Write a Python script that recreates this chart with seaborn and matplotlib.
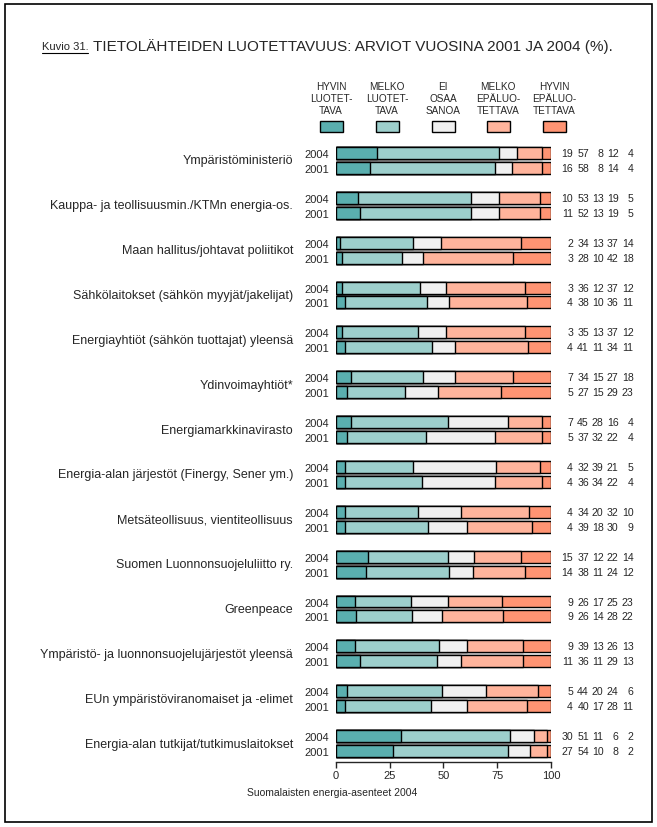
import numpy as np
import pandas as pd
import matplotlib.pyplot as plt
from matplotlib.patches import Rectangle
from matplotlib.lines import Line2D
import seaborn as sns

# data: shares (%) per source, 2004 and 2001
sources = [
    "Ympäristöministeriö",
    "Kauppa- ja teollisuusmin./KTMn energia-os.",
    "Maan hallitus/johtavat poliitikot",
    "Sähkölaitokset (sähkön myyjät/jakelijat)",
    "Energiayhtiöt (sähkön tuottajat) yleensä",
    "Ydinvoimayhtiöt*",
    "Energiamarkkinavirasto",
    "Energia-alan järjestöt (Finergy, Sener ym.)",
    "Metsäteollisuus, vientiteollisuus",
    "Suomen Luonnonsuojeluliitto ry.",
    "Greenpeace",
    "Ympäristö- ja luonnonsuojelujärjestöt yleensä",
    "EUn ympäristöviranomaiset ja -elimet",
    "Energia-alan tutkijat/tutkimuslaitokset",
]
years = ["2004", "2001"]
vals_2004 = [
    [19, 57, 8, 12, 4], [10, 53, 13, 19, 5], [2, 34, 13, 37, 14],
    [3, 36, 12, 37, 12], [3, 35, 13, 37, 12], [7, 34, 15, 27, 18],
    [7, 45, 28, 16, 4], [4, 32, 39, 21, 5], [4, 34, 20, 32, 10],
    [15, 37, 12, 22, 14], [9, 26, 17, 25, 23], [9, 39, 13, 26, 13],
    [5, 44, 20, 24, 6], [30, 51, 11, 6, 2],
]
vals_2001 = [
    [16, 58, 8, 14, 4], [11, 52, 13, 19, 5], [3, 28, 10, 42, 18],
    [4, 38, 10, 36, 11], [4, 41, 11, 34, 11], [5, 27, 15, 29, 23],
    [5, 37, 32, 22, 4], [4, 36, 34, 22, 4], [4, 39, 18, 30, 9],
    [14, 38, 11, 24, 12], [9, 26, 14, 28, 22], [11, 36, 11, 29, 13],
    [4, 40, 17, 28, 11], [27, 54, 10, 8, 2],
]
categories = ["HYVIN\nLUOTET-\nTAVA", "MELKO\nLUOTET-\nTAVA", "EI\nOSAA\nSANOA",
              "MELKO\nEPÄLUO-\nTETTAVA", "HYVIN\nEPÄLUO-\nTETTAVA"]
colors = ["#5AAFAF", "#9DCFCC", "#F0F0F0", "#FFB49C", "#FF9473"]

W, H = 657, 828
sns.set_style("white")
plt.rcParams['font.family'] = ['Liberation Sans', 'DejaVu Sans']

# slots: 2004, 2001, gap for each source
slots = []
rows = []
for i, src in enumerate(sources):
    for yr, vals in zip(years, [vals_2004[i], vals_2001[i]]):
        slot = f"{i}_{yr}"
        slots.append(slot)
        v = np.array(vals, dtype=float)
        cum = np.cumsum(v / v.sum() * 100)
        for k in range(5):
            rows.append({"slot": slot, "seg": k, "cum": cum[k]})
    slots.append(f"{i}_gap")
slots = slots[:-1]
df = pd.DataFrame(rows)

fig = plt.figure(figsize=(W / 100, H / 100), dpi=100)
ax = fig.add_axes([336 / W, 1 - 762.5 / H, 215 / W, (762.5 - 142) / H])

for k in range(4, -1, -1):
    sns.barplot(data=df[df.seg == k], x="cum", y="slot", order=slots,
                orient="h", color=colors[k], saturation=1, errorbar=None,
                edgecolor="black", linewidth=1.0, width=0.8, ax=ax)

ax.set_xlim(0, 100)
ax.set_ylim(40.7, -0.8)
ax.set_xticks([0, 25, 50, 75, 100])
ax.tick_params(axis="x", length=4, width=1, labelsize=8, pad=2, direction="out")
ax.xaxis.set_ticks_position("bottom")
ypos = [3 * i + j for i in range(len(sources)) for j in range(2)]
ax.set_yticks(ypos)
ax.set_yticklabels(years * len(sources), fontsize=8)
ax.tick_params(axis="y", length=0, pad=5)
ax.set_xlabel("")
ax.set_ylabel("")
for s in ["top", "right", "left"]:
    ax.spines[s].set_visible(False)
ax.spines["bottom"].set_linewidth(1)

def px(x):
    return (x - 336) / 2.15

col_x = [573, 589, 603.5, 618.5, 633.5]
for i, src in enumerate(sources):
    ax.text(px(293), 3 * i + 0.5, src, ha="right", va="center", fontsize=9,
            clip_on=False)
    for j, vals in enumerate([vals_2004[i], vals_2001[i]]):
        for c, v in zip(col_x, vals):
            ax.text(px(c), 3 * i + j, str(v), ha="right", va="center",
                    fontsize=7.6, clip_on=False)

# legend
leg_x = [331, 387, 443, 498, 554]
for cx, lab, col in zip(leg_x, categories, colors):
    fig.text(cx / W, 1 - 99 / H, lab, ha="center", va="center", fontsize=7.2,
             linespacing=1.3)
    fig.add_artist(Rectangle(((cx - 11) / W, 1 - 133 / H), 23 / W, 11 / H,
                             transform=fig.transFigure, facecolor=col,
                             edgecolor="black", linewidth=1))

# title
fig.text(42 / W, 1 - 47 / H, "Kuvio 31.", ha="left", va="center", fontsize=8)
fig.add_artist(Line2D([42 / W, 88 / W], [1 - 54 / H, 1 - 54 / H],
                      transform=fig.transFigure, color="black", linewidth=0.8))
fig.text(93 / W, 1 - 47 / H, "TIETOLÄHTEIDEN LUOTETTAVUUS: ARVIOT VUOSINA 2001 JA 2004 (%).",
         ha="left", va="center", fontsize=11)
fig.text(247 / W, 1 - 793 / H, "Suomalaisten energia-asenteet 2004",
         ha="left", va="center", fontsize=7.5)

# frame
fig.add_artist(Rectangle((5 / W, 1 - 823 / H), 647 / W, 818 / H,
                         transform=fig.transFigure, fill=False,
                         edgecolor="black", linewidth=1.2))

fig.savefig("out.png", dpi=100)
